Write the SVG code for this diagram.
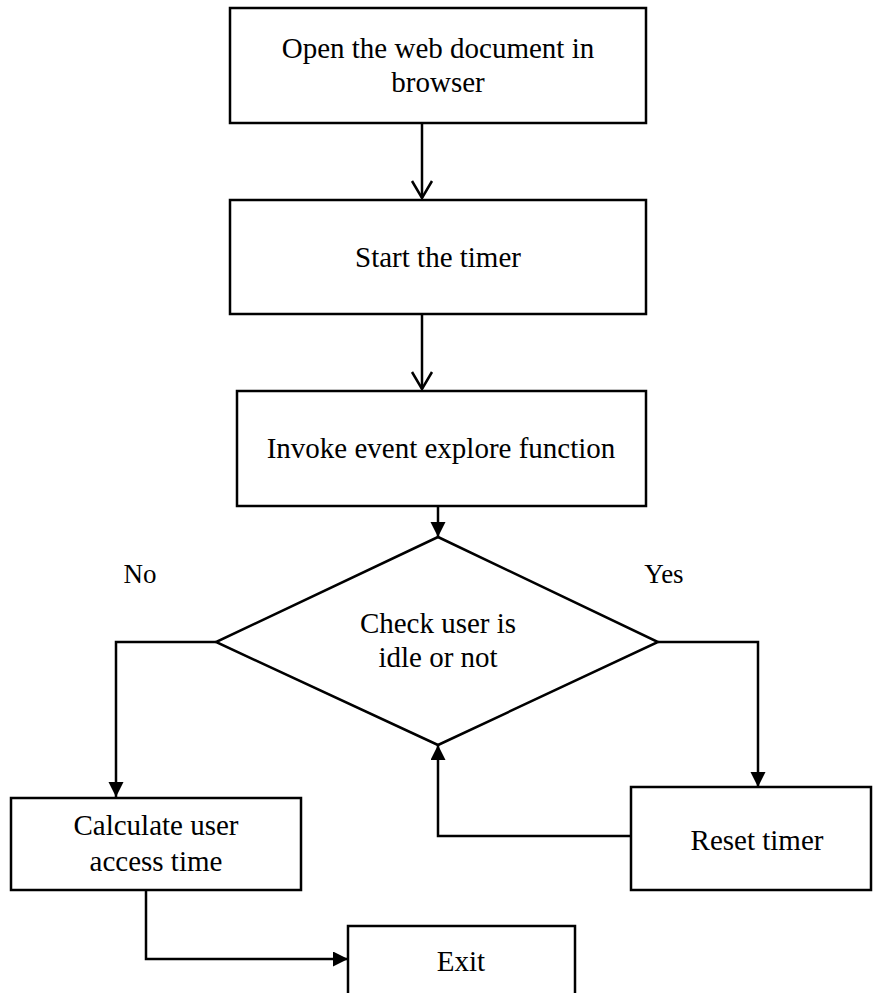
<svg xmlns="http://www.w3.org/2000/svg" width="873" height="993" viewBox="0 0 873 993">
<style>
.box{fill:#fff;stroke:#000;stroke-width:2.5}
.t{font-family:"Liberation Serif","Times New Roman",serif;font-size:29px;fill:#000;text-anchor:middle}
.c{fill:none;stroke:#000;stroke-width:2.5}
</style>
<defs>
<marker id="open" markerUnits="userSpaceOnUse" markerWidth="22" markerHeight="26" refX="20" refY="13" orient="auto" viewBox="0 0 22 26">
<path d="M3,3 L20,13 L3,23" fill="none" stroke="#000" stroke-width="2.5"/>
</marker>
<marker id="fill" markerUnits="userSpaceOnUse" markerWidth="16" markerHeight="16" refX="15" refY="7.5" orient="auto" viewBox="0 0 16 16">
<path d="M0,0 L15,7.5 L0,15 Z" fill="#000"/>
</marker>
</defs>
<rect width="873" height="993" fill="#fff"/>
<g id="connectors">
<line class="c" x1="422" y1="123" x2="422" y2="198" marker-end="url(#open)"/>
<line class="c" x1="422" y1="314" x2="422" y2="389" marker-end="url(#open)"/>
<line class="c" x1="438" y1="506" x2="438" y2="537" marker-end="url(#fill)"/>
<polyline class="c" points="216,642 116,642 116,797" marker-end="url(#fill)"/>
<polyline class="c" points="658,642 758,642 758,787" marker-end="url(#fill)"/>
<polyline class="c" points="631,836 438,836 438,745" marker-end="url(#fill)"/>
<polyline class="c" points="146,890 146,959 348,959" marker-end="url(#fill)"/>
</g>
<g id="open-doc">
<rect class="box" x="230" y="8" width="416" height="115"/>
<text class="t" x="438" y="58">Open the web document in</text>
<text class="t" x="438" y="92">browser</text>
</g>
<g id="start-timer">
<rect class="box" x="230" y="200" width="416" height="114"/>
<text class="t" x="438" y="267">Start the timer</text>
</g>
<g id="invoke">
<rect class="box" x="237" y="391" width="409" height="115"/>
<text class="t" x="441" y="458">Invoke event explore function</text>
</g>
<g id="check">
<polygon class="box" points="438,537 658,642 438,745 216,642"/>
<text class="t" x="438" y="633">Check user is</text>
<text class="t" x="438" y="667">idle or not</text>
</g>
<g id="labels">
<text class="t" x="140" y="583" style="font-size:27px">No</text>
<text class="t" x="664" y="583" style="font-size:27px">Yes</text>
</g>
<g id="calc">
<rect class="box" x="11" y="798" width="290" height="92"/>
<text class="t" x="156" y="835">Calculate user</text>
<text class="t" x="156" y="871">access time</text>
</g>
<g id="reset">
<rect class="box" x="631" y="787" width="240" height="103"/>
<text class="t" x="757" y="850">Reset timer</text>
</g>
<g id="exit">
<rect class="box" x="348" y="926" width="227" height="80"/>
<text class="t" x="461" y="971">Exit</text>
</g>
</svg>
